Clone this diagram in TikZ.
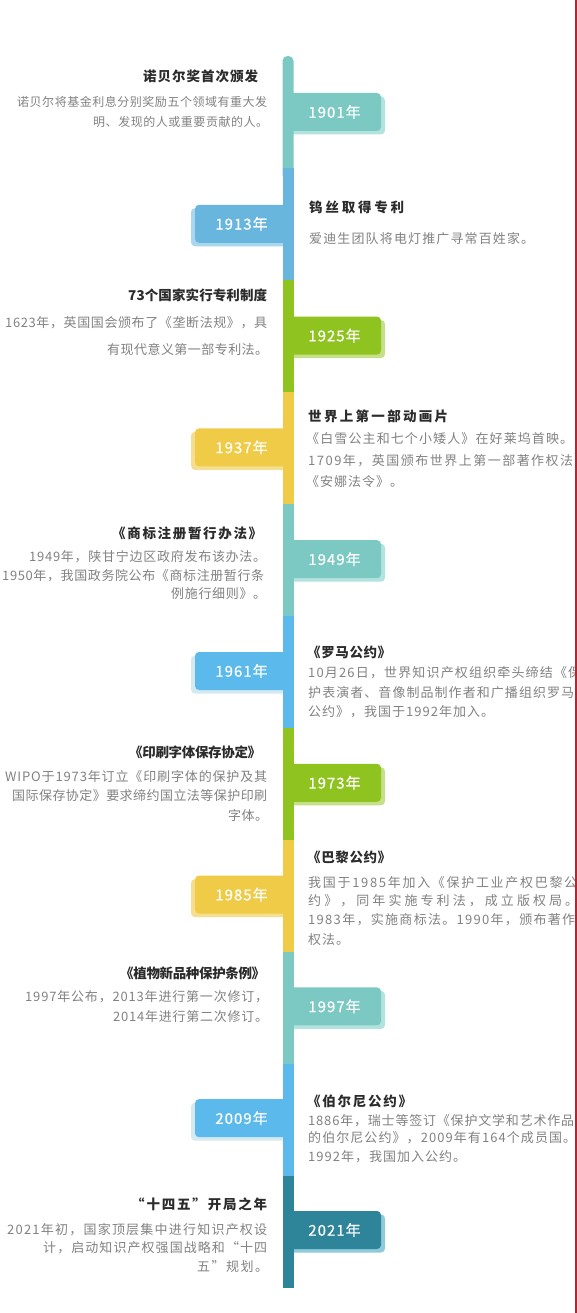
\documentclass[tikz,border=0pt]{standalone}
\usepackage{fontspec}
\setmainfont{Noto Sans CJK SC}
\definecolor{cTeal}{HTML}{7CC9C3}
\definecolor{cTealS}{HTML}{B2E3DE}
\definecolor{cBlueA}{HTML}{68B6DE}
\definecolor{cBlueAS}{HTML}{A9D7EE}
\definecolor{cGreen}{HTML}{8FC31F}
\definecolor{cGreenS}{HTML}{C6E08A}
\definecolor{cYellow}{HTML}{EFCB47}
\definecolor{cYellowS}{HTML}{F5DE8F}
\definecolor{cBlueB}{HTML}{5BB9EC}
\definecolor{cBlueBS}{HTML}{D4E9F1}
\definecolor{cDark}{HTML}{2E8499}
\definecolor{cDarkS}{HTML}{8ECADB}
\definecolor{cTitle}{HTML}{2B2B2B}
\definecolor{cBody}{HTML}{828282}
\definecolor{cFrame}{HTML}{B3282D}
\newdimen\lsp
\setlength\lsp{1pt}
\def\sprX#1{\ifx#1\relax\else#1\hskip\lsp plus 1fil minus 1fil\relax\expandafter\sprX\fi}
\newcommand\spr[1]{\sprX#1\relax\unskip}
\newcommand\spanline[6]{\node[#5, anchor=west] (#1) at (#2,#4) {\hbox to \dimexpr #3pt-#2pt\relax{\spr{#6}}};}
\newcommand\lline[5]{\node[#4, anchor=west] (#1) at (#2,#3) {\spr{#5}};}
\newcommand\tagR[4]{%
  \fill[#4, rounded corners=4pt] (286,#2+3.5) rectangle (385,#2+41.5);
  \fill[#3, rounded corners=4pt] (286,#2) rectangle (381,#2+38);
  \coordinate (#1) at (334.5,#2+19);}
\newcommand\tagL[4]{%
  \fill[#4, rounded corners=4pt] (191,#2+3.5) rectangle (290,#2+41.5);
  \fill[#3, rounded corners=4pt] (195,#2) rectangle (290,#2+38);
  \coordinate (#1) at (241.5,#2+19);}
\newcommand\lspA{\setlength\lsp{1.5pt}}
\newcommand\lspB{\setlength\lsp{1pt}}
\newcommand\lspC{\setlength\lsp{0.5pt}}
\newcommand\yrfont{\fontsize{15}{18}\selectfont\addfontfeatures{FakeBold=0.5}\lspB}
\tikzset{
  ttl/.style={text=cTitle, inner sep=0pt, font=\fontsize{13.5}{16}\selectfont\bfseries\lspA},
  bdy/.style={text=cBody, inner sep=0pt, font=\fontsize{13}{15}\selectfont\lspB},
  bdyS/.style={text=cBody, inner sep=0pt, font=\fontsize{12}{14}\selectfont\lspC},
  yr/.style={text=white, inner sep=0pt, font=\yrfont},
}
\begin{document}
\begin{tikzpicture}[x=1pt,y=-1pt]
\useasboundingbox (0,0) rectangle (577,1313);
\fill[white] (0,0) rectangle (577,1313);
% tags
\tagR{p1901}{93}{cTeal}{cTealS}
\tagL{p1913}{204.8}{cBlueA}{cBlueAS}
\tagR{p1925}{316.6}{cGreen}{cGreenS}
\tagL{p1937}{428.4}{cYellow}{cYellowS}
\tagR{p1949}{540.2}{cTeal}{cTealS}
\tagL{p1961}{652}{cBlueB}{cBlueBS}
\tagR{p1973}{763.8}{cGreen}{cGreenS}
\tagL{p1985}{875.6}{cYellow}{cYellowS}
\tagR{p1997}{987.4}{cTeal}{cTealS}
\tagL{p2009}{1099.2}{cBlueB}{cBlueBS}
\tagR{p2021}{1211}{cDark}{cDarkS}
% bar
\fill[cTeal, rounded corners=5pt] (282.5,56) rectangle (293.5,180);
\fill[cBlueA] (282.5,168) rectangle (293.5,280);
\fill[cGreen] (282.5,280) rectangle (293.5,392);
\fill[cYellow] (282.5,392) rectangle (293.5,504);
\fill[cTeal] (282.5,504) rectangle (293.5,616);
\fill[cBlueB] (282.5,616) rectangle (293.5,728);
\fill[cGreen] (282.5,728) rectangle (293.5,840);
\fill[cYellow] (282.5,840) rectangle (293.5,952);
\fill[cTeal] (282.5,952) rectangle (293.5,1064);
\fill[cBlueB] (282.5,1064) rectangle (293.5,1176);
\fill[cDark] (282.5,1176) rectangle (293.5,1288);
% year labels
\node[yr] (y1901) at (p1901) {\spr{1901年}};
\node[yr] (y1913) at (p1913) {\spr{1913年}};
\node[yr] (y1925) at (p1925) {\spr{1925年}};
\node[yr] (y1937) at (p1937) {\spr{1937年}};
\node[yr] (y1949) at (p1949) {\spr{1949年}};
\node[yr] (y1961) at (p1961) {\spr{1961年}};
\node[yr] (y1973) at (p1973) {\spr{1973年}};
\node[yr] (y1985) at (p1985) {\spr{1985年}};
\node[yr] (y1997) at (p1997) {\spr{1997年}};
\node[yr] (y2009) at (p2009) {\spr{2009年}};
\node[yr] (y2021) at (p2021) {\spr{2021年}};
\begin{scope}
\clip (0,0) rectangle (576,1313);
% left entries
\spanline{t1901}{143}{258}{76}{ttl}{诺贝尔奖首次颁发}
\spanline{a1901}{17}{267}{102}{bdyS}{诺贝尔将基金利息分别奖励五个领域有重大发}
\spanline{b1901}{93}{268}{122}{bdyS}{明、发现的人或重要贡献的人。}
\spanline{t1925}{128}{267}{295}{ttl}{73个国家实行专利制度}
\spanline{a1925}{5}{267}{323}{bdy}{1623年，英国国会颁布了《垄断法规》，具}
\spanline{b1925}{107}{268}{350}{bdy}{有现代意义第一部专利法。}
\spanline{t1949}{112}{262}{533}{ttl}{《商标注册暂行办法》}
\spanline{a1949}{29}{266}{557}{bdy}{1949年，陕甘宁边区政府发布该办法。}
\spanline{b1949}{2}{264}{576}{bdy}{1950年，我国政务院公布《商标注册暂行条}
\spanline{c1949}{171}{266}{594}{bdy}{例施行细则》。}
\spanline{t1973}{129}{261}{752}{ttl}{《印刷字体保存协定》}
\spanline{a1973}{5}{267}{777}{bdy}{WIPO于1973年订立《印刷字体的保护及其}
\spanline{b1973}{12}{267}{796}{bdy}{国际保存协定》要求缔约国立法等保护印刷}
\spanline{c1973}{228}{268}{815}{bdy}{字体。}
\spanline{t1997}{120}{265}{973}{ttl}{《植物新品种保护条例》}
\spanline{a1997}{25}{268}{997}{bdy}{1997年公布，2013年进行第一次修订，}
\spanline{b1997}{113}{268}{1017}{bdy}{2014年进行第二次修订。}
\spanline{t2021}{131}{267}{1204}{ttl}{“十四五”开局之年}
\spanline{a2021}{7}{267}{1230}{bdy}{2021年初，国家顶层集中进行知识产权设}
\spanline{b2021}{43}{267}{1248}{bdy}{计，启动知识产权强国战略和“十四}
\spanline{c2021}{197}{268}{1267}{bdy}{五”规划。}
% right entries
\spanline{t1913}{309}{404}{207}{ttl}{钨丝取得专利}
\spanline{a1913}{309}{534}{239}{bdy}{爱迪生团队将电灯推广寻常百姓家。}
\spanline{t1937}{308}{448}{416}{ttl}{世界上第一部动画片}
\spanline{a1937}{306}{573}{439}{bdy}{《白雪公主和七个小矮人》在好莱坞首映。}
\spanline{b1937}{308}{573}{461}{bdy}{1709年，英国颁布世界上第一部著作权法}
\lline{c1937}{306}{482}{bdy}{《安娜法令》。}
\spanline{t1961}{307}{391}{652}{ttl}{《罗马公约》}
\spanline{a1961}{308}{581}{673}{bdy}{10月26日，世界知识产权组织牵头缔结《保}
\spanline{b1961}{308}{574}{693}{bdy}{护表演者、音像制品制作者和广播组织罗马}
\lline{c1961}{308}{712}{bdy}{公约》，我国于1992年加入。}
\spanline{t1985}{307}{391}{857}{ttl}{《巴黎公约》}
\spanline{a1985}{308}{577}{883}{bdy}{我国于1985年加入《保护工业产权巴黎公}
\spanline{b1985}{308}{578}{901}{bdy}{约》，同年实施专利法，成立版权局。}
\spanline{c1985}{308}{575}{920}{bdy}{1983年，实施商标法。1990年，颁布著作}
\lline{d1985}{308}{940}{bdy}{权法。}
\spanline{t2009}{307}{412}{1101}{ttl}{《伯尔尼公约》}
\spanline{a2009}{308}{574}{1121}{bdy}{1886年，瑞士等签订《保护文学和艺术作品}
\spanline{b2009}{308}{576}{1138}{bdy}{的伯尔尼公约》，2009年有164个成员国。}
\lline{c2009}{308}{1157}{bdy}{1992年，我国加入公约。}
\end{scope}
\coordinate (fTop) at (576,0);
\coordinate (fBot) at (576,1313);
\draw[cFrame, line width=1.2pt] (fTop) -- (fBot);
\end{tikzpicture}
\end{document}
